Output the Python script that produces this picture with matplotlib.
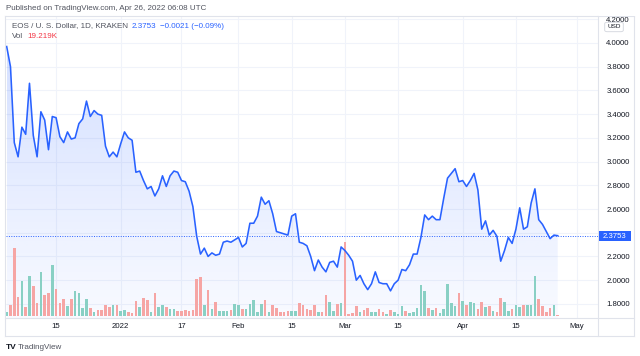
import numpy as np
import pandas as pd
import matplotlib
matplotlib.use('Agg')
import matplotlib.pyplot as plt
import matplotlib.dates as mdates
from matplotlib.patches import Rectangle, FancyBboxPatch, Polygon
from matplotlib.lines import Line2D

plt.rcParams['font.family'] = ['Liberation Sans', 'DejaVu Sans']

# ---------------- data ----------------
start_date = '2021-12-02'
close = [3.97, 3.80, 3.16, 3.04, 3.29, 3.23, 3.66, 3.22, 3.04, 3.42,
         3.35, 3.10, 3.38, 3.37, 3.21, 3.16, 3.25, 3.19, 3.20, 3.32,
         3.36, 3.51, 3.38, 3.43, 3.40, 3.39, 3.13, 3.04, 3.08, 3.04,
         3.15, 3.25, 3.20, 3.18, 2.91, 2.92, 2.84, 2.77, 2.79, 2.71,
         2.77, 2.88, 2.79, 2.88, 2.92, 2.91, 2.84, 2.83, 2.75, 2.62,
         2.37, 2.22, 2.27, 2.20, 2.23, 2.21, 2.22, 2.32, 2.33, 2.32,
         2.34, 2.36, 2.28, 2.31, 2.48, 2.48, 2.54, 2.70, 2.64, 2.67,
         2.56, 2.41, 2.40, 2.39, 2.38, 2.54, 2.56, 2.32, 2.31, 2.29,
         2.20, 2.08, 2.17, 2.11, 2.07, 2.15, 2.16, 2.11, 2.28, 2.25,
         2.21, 2.16, 2.00, 2.04, 1.97, 1.92, 1.97, 2.07, 1.98, 1.97,
         1.97, 1.91, 1.97, 2.00, 2.09, 2.08, 2.13, 2.22, 2.22, 2.36,
         2.55, 2.51, 2.54, 2.51, 2.51, 2.69, 2.86, 2.90, 2.94, 2.83,
         2.84, 2.79, 2.84, 2.90, 2.76, 2.43, 2.50, 2.38, 2.42, 2.37,
         2.16, 2.25, 2.36, 2.31, 2.43, 2.61, 2.43, 2.45, 2.65, 2.77,
         2.51, 2.47, 2.41, 2.35, 2.38, 2.3753]

volume_k = [65, 165, 1015, 290, 530, 140, 600, 450, 190, 665,
            315, 340, 760, 410, 200, 260, 155, 260, 380, 340,
            120, 260, 115, 60, 90,
            90, 165, 140, 165, 160, 80, 90, 60, 40, 225,
            130, 270, 240, 60, 350, 140, 160, 130, 105, 100,
            80, 80, 90, 80, 90,
            550, 580, 165, 390, 100, 210, 80, 80, 80, 90,
            180, 160, 110, 110, 180, 240, 65, 180, 240, 65,
            165, 120, 65, 60, 70,
            80, 80, 190, 170, 110, 90, 160, 65, 65, 310,
            215, 70, 180, 190, 1115, 30, 40, 150, 60, 90,
            120, 60, 60, 100, 65, 30,
            90, 60, 30, 150, 75, 40, 60, 120, 460, 380,
            115, 90, 120, 40, 110, 480, 190, 150, 350, 230,
            165, 210, 190, 100, 210,
            140, 150, 80, 60, 270, 210, 80, 100, 160, 140,
            170, 170, 170, 600, 250, 150, 60, 115, 170, 19.219]

x_tick_dates = ['2021-12-15', '2022-01-01', '2022-01-17', '2022-02-01', '2022-02-15',
                '2022-03-01', '2022-03-15', '2022-04-01', '2022-04-15', '2022-05-01']
x_tick_labels = ['15', '2022', '17', 'Feb', '15', 'Mar', '15', 'Apr', '15', 'May']
price_ticks = [1.8, 2.0, 2.2, 2.4, 2.6, 2.8, 3.0, 3.2, 3.4, 3.6, 3.8, 4.0, 4.2]

header = 'Published on TradingView.com, Apr 26, 2022 06:08 UTC'
symbol_title = 'EOS / U. S. Dollar, 1D, KRAKEN'
last_price = 2.3753
change_text = '\u22120.0021 (\u22120.09%)'
vol_text = '19.219K'

# ---------------- styling ----------------
W, H = 640, 356
LINE = '#2962ff'
RED = '#f6a5a4'
GREEN = '#89d0c4'
GRID = '#f0f3fa'
BORDER = '#e0e3eb'
TXT = '#131722'
GRAY = '#50535e'

dates = pd.date_range(start_date, periods=len(close), freq='D')
xn = mdates.date2num(dates)
close_arr = np.array(close)
vol_arr = np.array(volume_k, dtype=float)
up = np.r_[True, close_arr[1:] >= close_arr[:-1]]
bar_colors = [GREEN if u else RED for u in up]

fig = plt.figure(figsize=(W / 100, H / 100), dpi=100)
fig.patch.set_facecolor('white')

def fx(px):
    return px / W

def fy(py):
    return 1 - py / H

rect = [fx(6), fy(318), fx(598) - fx(6), fy(17) - fy(318)]
ax = fig.add_axes(rect)
axv = fig.add_axes(rect, sharex=ax)
axl = fig.add_axes(rect, sharex=ax, sharey=ax)

x_lo = xn[0] - 0.18
x_hi = xn[0] + 155.6
ax.set_xlim(x_lo, x_hi)
ax.set_ylim(1.681, 4.219)

# grid and ticks (the 2.4000 label sits under the last-price badge)
tick_nums = mdates.date2num(pd.to_datetime(x_tick_dates))
ax.set_xticks(tick_nums)
ax.set_xticklabels(x_tick_labels)
ax.set_yticks(price_ticks)
ax.set_yticklabels(['' if abs(p - last_price) < 0.05 else f'{p:.4f}' for p in price_ticks])
ax.grid(True, color=GRID, lw=0.8)
ax.set_axisbelow(True)
ax.yaxis.tick_right()
ax.tick_params(axis='y', length=0, pad=6, labelsize=5.6, labelcolor=TXT)
ax.tick_params(axis='x', length=0, pad=3.5, labelsize=5.6, labelcolor=TXT)
for s in ax.spines.values():
    s.set_visible(False)

# gradient area fill
ylo, yhi = ax.get_ylim()
alphas = np.linspace(0.22, 0.03, 256)
grad = np.zeros((256, 1, 4))
grad[:, 0, 0] = 0x29 / 255
grad[:, 0, 1] = 0x62 / 255
grad[:, 0, 2] = 0xff / 255
grad[:, 0, 3] = alphas
img = ax.imshow(grad, extent=[xn[0], xn[-1], ylo, yhi], aspect='auto',
                origin='upper', zorder=1, interpolation='bilinear')
poly_pts = np.column_stack([np.r_[xn, xn[-1], xn[0]], np.r_[close_arr, ylo, ylo]])
clip = Polygon(poly_pts, closed=True, transform=ax.transData, facecolor='none', edgecolor='none')
ax.add_patch(clip)
img.set_clip_path(clip)
ax.set_xlim(x_lo, x_hi)
ax.set_ylim(ylo, yhi)

# last price dotted line
ax.axhline(last_price, color=LINE, lw=0.7, ls=(0, (1, 1.5)), zorder=2)

# volume bars
axv.bar(xn, vol_arr, width=0.72, color=bar_colors, linewidth=0)
axv.set_ylim(-30, 4485)
axv.patch.set_visible(False)
axv.axis('off')

# price line
axl.plot(xn, close_arr, color=LINE, lw=1.15, solid_joinstyle='round')
axl.patch.set_visible(False)
axl.axis('off')
axl.set_xlim(x_lo, x_hi)
axl.set_ylim(ylo, yhi)

# borders
def hline(y, x0, x1):
    fig.add_artist(Line2D([fx(x0), fx(x1)], [fy(y), fy(y)], color=BORDER, lw=0.8, zorder=3))

def vline(x, y0, y1):
    fig.add_artist(Line2D([fx(x), fx(x)], [fy(y0), fy(y1)], color=BORDER, lw=0.8, zorder=3))

hline(16, 5, 634)
hline(318, 5, 634)
hline(336, 5, 634)
vline(5, 16, 336)
vline(598, 16, 336)
vline(634, 16, 336)

# white strip above the frame (clips the top tick label)
fig.add_artist(Rectangle((fx(598.5), fy(16)), fx(640) - fx(598.5), 1 - fy(16),
                         transform=fig.transFigure, facecolor='white', edgecolor='none', zorder=4))

# USD badge
fig.add_artist(FancyBboxPatch((fx(606), fy(31)), fx(622) - fx(606), fy(23) - fy(31),
                              boxstyle='round,pad=0.002,rounding_size=0.004',
                              transform=fig.transFigure, facecolor='white',
                              edgecolor='#d1d4dc', lw=0.6, zorder=5))
fig.text(fx(614), fy(27), 'USD', fontsize=4.6, color=TXT, ha='center', va='center', zorder=6)

# last price label
fig.add_artist(Rectangle((fx(598.5), fy(241)), fx(631) - fx(598.5), fy(231) - fy(241),
                         transform=fig.transFigure, facecolor=LINE, edgecolor='none', zorder=5))
fig.text(fx(614.5), fy(236), f'{last_price:.4f}', fontsize=5.6, color='white',
         ha='center', va='center', zorder=6)

# header
fig.text(fx(6), fy(8.5), header, fontsize=5.8, color=GRAY, ha='left', va='center')

# legend rows
renderer = fig.canvas.get_renderer()

def chain(parts, x0, y, size):
    x = x0
    for s, color, gap in parts:
        t = fig.text(fx(x), fy(y), s, color=color, fontsize=size, ha='left', va='center', zorder=6)
        bb = t.get_window_extent(renderer)
        x = bb.x1 + gap

chain([(symbol_title, GRAY, 4), (f'{last_price:.4f}', LINE, 4), (change_text, LINE, 0)], 11.5, 26, 5.8)
chain([('Vol', GRAY, 5), (vol_text, '#f23645', 0)], 11.5, 37, 5.8)

# logo
fig.text(fx(6), fy(347.5), 'TV', fontsize=6, color=TXT, fontweight='bold', ha='left', va='center')
fig.text(fx(17.5), fy(347.5), 'TradingView', fontsize=5.8, color=GRAY, ha='left', va='center')

fig.savefig('out.png', dpi=100, facecolor='white')
